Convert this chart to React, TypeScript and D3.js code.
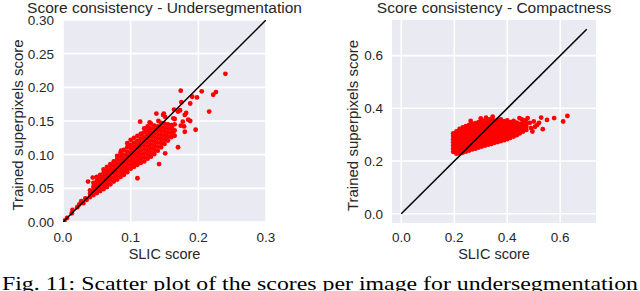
import * as d3 from 'd3';

const underColumns: [number, number[]][] = [
	[0.040, [0.037, 0.042, 0.047]],
	[0.045, [0.040, 0.046, 0.052, 0.058]],
	[0.050, [0.043, 0.049, 0.055, 0.061, 0.067]],
	[0.055, [0.046, 0.052, 0.058, 0.064, 0.070]],
	[0.060, [0.049, 0.055, 0.061, 0.067, 0.073, 0.078]],
	[0.065, [0.052, 0.058, 0.064, 0.070, 0.076, 0.082]],
	[0.070, [0.056, 0.062, 0.068, 0.074, 0.080, 0.086]],
	[0.075, [0.060, 0.066, 0.072, 0.078, 0.084, 0.090]],
	[0.080, [0.063, 0.069, 0.075, 0.081, 0.087, 0.093, 0.098]],
	[0.085, [0.067, 0.073, 0.079, 0.085, 0.091, 0.097, 0.103]],
	[0.090, [0.070, 0.076, 0.082, 0.088, 0.094, 0.100, 0.107]],
	[0.095, [0.074, 0.080, 0.086, 0.092, 0.098, 0.104, 0.111, 0.117]],
	[0.100, [0.079, 0.085, 0.091, 0.097, 0.103, 0.109, 0.115, 0.122]],
	[0.105, [0.082, 0.088, 0.094, 0.100, 0.106, 0.112, 0.118, 0.125]],
	[0.110, [0.085, 0.091, 0.097, 0.103, 0.109, 0.115, 0.121, 0.128]],
	[0.115, [0.088, 0.094, 0.100, 0.106, 0.112, 0.118, 0.124, 0.131]],
	[0.120, [0.090, 0.096, 0.102, 0.108, 0.114, 0.120, 0.126, 0.133, 0.139]],
	[0.125, [0.094, 0.100, 0.106, 0.112, 0.118, 0.124, 0.130, 0.136, 0.142]],
	[0.130, [0.097, 0.103, 0.109, 0.115, 0.121, 0.127, 0.133, 0.139, 0.146]],
	[0.135, [0.101, 0.107, 0.113, 0.119, 0.125, 0.131, 0.137, 0.143]],
	[0.140, [0.106, 0.112, 0.118, 0.124, 0.130, 0.136, 0.142]],
	[0.145, [0.111, 0.117, 0.123, 0.129, 0.135, 0.141, 0.147]],
	[0.150, [0.116, 0.122, 0.128, 0.134, 0.140, 0.146]],
	[0.155, [0.121, 0.127, 0.133, 0.139, 0.145]],
	[0.160, [0.126, 0.132, 0.138, 0.144]],
	[0.165, [0.128, 0.136, 0.145]],
];

const underLoose: [number, number][] = [
	[0.002, 0.002], [0.006, 0.006], [0.013, 0.013], [0.014, 0.018], [0.021, 0.022],
	[0.024, 0.026], [0.027, 0.031], [0.030, 0.028], [0.033, 0.035], [0.035, 0.033],
	[0.037, 0.060], [0.044, 0.066], [0.086, 0.106], [0.097, 0.114], [0.110, 0.065],
	[0.116, 0.131], [0.142, 0.086], [0.151, 0.102], [0.170, 0.111], [0.114, 0.149],
	[0.128, 0.148], [0.138, 0.161], [0.141, 0.150], [0.143, 0.137], [0.148, 0.159],
	[0.149, 0.161], [0.151, 0.156], [0.153, 0.127], [0.161, 0.140], [0.163, 0.132],
	[0.163, 0.154], [0.164, 0.167], [0.165, 0.153], [0.170, 0.164], [0.173, 0.166],
	[0.174, 0.143], [0.174, 0.195], [0.175, 0.178], [0.177, 0.149], [0.179, 0.142],
	[0.180, 0.159], [0.180, 0.134], [0.182, 0.162], [0.185, 0.152], [0.188, 0.176],
	[0.188, 0.150], [0.191, 0.186], [0.196, 0.137], [0.198, 0.185], [0.205, 0.194],
	[0.216, 0.164], [0.222, 0.189], [0.226, 0.193], [0.240, 0.220],
];

const compColumns: [number, number[]][] = [
	[0.196, [0.235, 0.247, 0.259, 0.271, 0.283, 0.295, 0.305]],
	[0.208, [0.228, 0.240, 0.252, 0.264, 0.276, 0.288, 0.300, 0.312]],
	[0.220, [0.229, 0.241, 0.253, 0.265, 0.277, 0.289, 0.301, 0.313, 0.322]],
	[0.232, [0.232, 0.244, 0.256, 0.268, 0.280, 0.292, 0.304, 0.316, 0.328]],
	[0.244, [0.236, 0.248, 0.260, 0.272, 0.284, 0.296, 0.308, 0.320, 0.332]],
	[0.256, [0.240, 0.252, 0.264, 0.276, 0.288, 0.300, 0.312, 0.324, 0.337]],
	[0.268, [0.244, 0.256, 0.268, 0.280, 0.292, 0.304, 0.316, 0.328, 0.341]],
	[0.280, [0.247, 0.259, 0.271, 0.283, 0.295, 0.307, 0.319, 0.331, 0.344]],
	[0.292, [0.251, 0.263, 0.275, 0.287, 0.299, 0.311, 0.323, 0.335, 0.348]],
	[0.304, [0.255, 0.267, 0.279, 0.291, 0.303, 0.315, 0.327, 0.339, 0.351]],
	[0.316, [0.259, 0.271, 0.283, 0.295, 0.307, 0.319, 0.331, 0.343, 0.354]],
	[0.328, [0.262, 0.274, 0.286, 0.298, 0.310, 0.322, 0.334, 0.346, 0.357]],
	[0.340, [0.265, 0.277, 0.289, 0.301, 0.313, 0.325, 0.337, 0.349, 0.360]],
	[0.352, [0.269, 0.281, 0.293, 0.305, 0.317, 0.329, 0.341, 0.353]],
	[0.364, [0.272, 0.284, 0.296, 0.308, 0.320, 0.332, 0.344, 0.356]],
	[0.376, [0.276, 0.288, 0.300, 0.312, 0.324, 0.336, 0.348, 0.358]],
	[0.388, [0.279, 0.291, 0.303, 0.315, 0.327, 0.339, 0.351]],
	[0.400, [0.283, 0.295, 0.307, 0.319, 0.331, 0.343, 0.354]],
	[0.412, [0.288, 0.300, 0.312, 0.324, 0.336, 0.348]],
	[0.424, [0.293, 0.305, 0.317, 0.329, 0.341, 0.352]],
	[0.436, [0.298, 0.310, 0.322, 0.334, 0.346]],
	[0.448, [0.305, 0.317, 0.329, 0.341]],
	[0.460, [0.312, 0.324, 0.336, 0.348]],
	[0.472, [0.318, 0.330, 0.342]],
];

const compLoose: [number, number][] = [
	[0.262, 0.352], [0.300, 0.362], [0.320, 0.365], [0.345, 0.368], [0.446, 0.363],
	[0.455, 0.358], [0.470, 0.355], [0.477, 0.363], [0.485, 0.345], [0.490, 0.325],
	[0.495, 0.312], [0.500, 0.350], [0.505, 0.330], [0.513, 0.337], [0.520, 0.345],
	[0.528, 0.365], [0.534, 0.321], [0.550, 0.356], [0.577, 0.363], [0.611, 0.350],
	[0.627, 0.371],
];

const underXTicks = [0, 0.1, 0.2, 0.3];
const underYTicks = [0, 0.05, 0.1, 0.15, 0.2, 0.25, 0.3];
const compTicks = [0, 0.2, 0.4, 0.6];

const caption = 'Fig. 11: Scatter plot of the scores per image for undersegmentation';

const FONT = '"Liberation Sans", Arial, sans-serif';
const TEXT = '#262626';

function flatten(cols: [number, number[]][], loose: [number, number][]): [number, number][] {
	const out: [number, number][] = [];
	for (const [x, ys] of cols) for (const y of ys) out.push([x, y]);
	return out.concat(loose);
}

interface PanelProps {
	id: string;
	left: number;
	right: number;
	top: number;
	bottom: number;
	domain: [number, number];
	xTicks: number[];
	yTicks: number[];
	xFmt: string;
	yFmt: string;
	lineMax: number;
	points: [number, number][];
	title: string;
	yLabelX: number;
}

function Panel(p: PanelProps) {
	const x = d3.scaleLinear().domain(p.domain).range([p.left, p.right]);
	const y = d3.scaleLinear().domain(p.domain).range([p.bottom, p.top]);
	const fx = d3.format(p.xFmt);
	const fy = d3.format(p.yFmt);
	const cx = (p.left + p.right) / 2;
	const cy = (p.top + p.bottom) / 2 + 4;
	return (
		<g>
			<defs>
				<clipPath id={p.id}>
					<rect x={p.left} y={p.top} width={p.right - p.left} height={p.bottom - p.top} />
				</clipPath>
			</defs>
			<rect x={p.left} y={p.top} width={p.right - p.left} height={p.bottom - p.top} fill="#EAEAF2" />
			<g clipPath={`url(#${p.id})`}>
				{p.xTicks.map((t) => (
					<line key={'gx' + t} x1={x(t)} x2={x(t)} y1={p.top} y2={p.bottom} stroke="#fff" strokeWidth={1.6} />
				))}
				{p.yTicks.map((t) => (
					<line key={'gy' + t} x1={p.left} x2={p.right} y1={y(t)} y2={y(t)} stroke="#fff" strokeWidth={1.6} />
				))}
				{p.points.map((d, i) => (
					<circle key={i} cx={x(d[0])} cy={y(d[1])} r={2.4} fill="#ff0000" />
				))}
				<line x1={x(0)} y1={y(0)} x2={x(p.lineMax)} y2={y(p.lineMax)} stroke="#000" strokeWidth={1.5} />
			</g>
			{p.xTicks.map((t) => (
				<text key={'tx' + t} x={x(t)} y={241.5} textAnchor="middle" fontSize={13.5} fill={TEXT} fontFamily={FONT}>
					{fx(t)}
				</text>
			))}
			{p.yTicks.map((t) => (
				<text key={'ty' + t} x={p.left - 9} y={y(t)} dy="0.36em" textAnchor="end" fontSize={13.5} fill={TEXT} fontFamily={FONT}>
					{fy(t)}
				</text>
			))}
			<text x={cx} y={13.3} textAnchor="middle" fontSize={15.5} fill={TEXT} fontFamily={FONT}>
				{p.title}
			</text>
			<text x={cx} y={259.3} textAnchor="middle" fontSize={14.5} fill={TEXT} fontFamily={FONT}>
				SLIC score
			</text>
			<text
				transform={`translate(${p.yLabelX},${cy}) rotate(-90)`}
				textAnchor="middle"
				fontSize={15}
				fill={TEXT}
				fontFamily={FONT}
			>
				Trained superpixels score
			</text>
		</g>
	);
}

export default function App() {
	const underPoints = flatten(underColumns, underLoose);
	const compPoints = flatten(compColumns, compLoose);
	return (
		<svg width={640} height={291} style={{ position: 'absolute', left: 0, top: 0, background: '#fff' }}>
			<rect width={640} height={291} fill="#fff" />
			<Panel
				id="clipUnder"
				left={63}
				right={266}
				top={20}
				bottom={222}
				domain={[0, 0.3]}
				xTicks={underXTicks}
				yTicks={underYTicks}
				xFmt=".1f"
				yFmt=".2f"
				lineMax={0.3}
				points={underPoints}
				title="Score consistency - Undersegmentation"
				yLabelX={22.7}
			/>
			<Panel
				id="clipComp"
				left={392}
				right={596}
				top={20}
				bottom={223}
				domain={[-0.035, 0.735]}
				xTicks={compTicks}
				yTicks={compTicks}
				xFmt=".1f"
				yFmt=".1f"
				lineMax={0.7}
				points={compPoints}
				title="Score consistency - Compactness"
				yLabelX={358}
			/>
			<text
				x={2}
				y={289.5}
				fontSize={18}
				fontFamily='"Liberation Serif", "Times New Roman", serif'
				fill="#000"
				textLength={636}
				lengthAdjust="spacingAndGlyphs"
			>
				{caption}
			</text>
		</svg>
	);
}
